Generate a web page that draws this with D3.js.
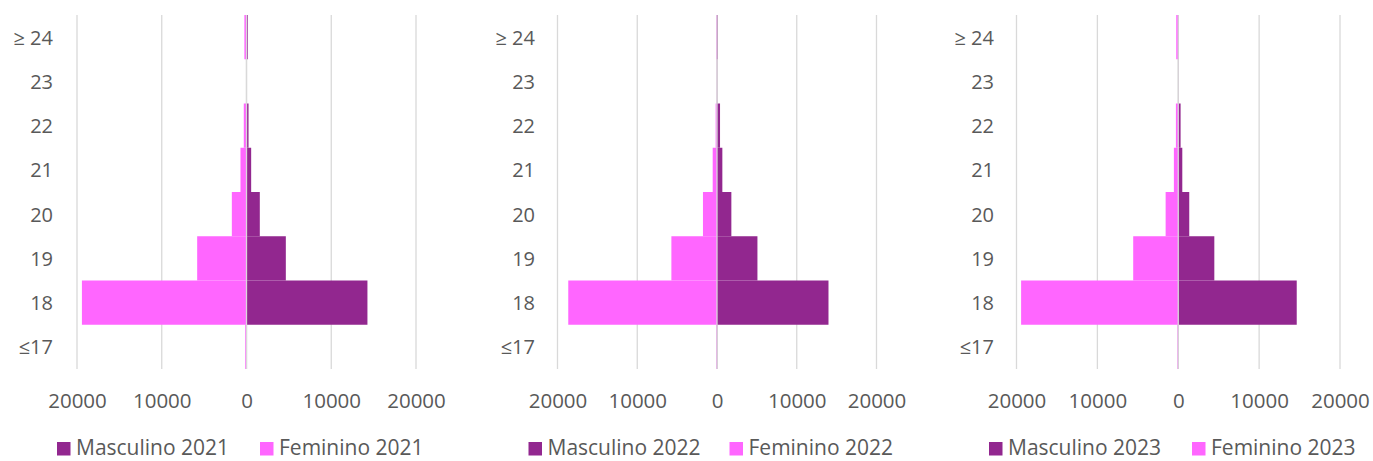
<!DOCTYPE html>
<html>
<head>
<meta charset="utf-8">
<script src="https://cdn.jsdelivr.net/npm/d3@7"></script>
<style>
  html, body { margin: 0; padding: 0; background: #fff; }
  svg { display: block; }
  text { font-family: "Open Sans", "Liberation Sans", sans-serif; fill: #595959; }
</style>
</head>
<body>
<svg id="chart" width="1373" height="461"></svg>
<script>
// ---- data ----
const categories = ["≤17", "18", "19", "20", "21", "22", "23", "≥ 24"];
const years = ["2021", "2022", "2023"];
const male2021   = [30, 14270, 4640, 1570, 550, 240, 30, 150];
const female2021 = [150, 19420, 5820, 1730, 710, 320, 50, 250];
const male2022   = [30, 13980, 5070, 1800, 670, 380, 30, 100];
const female2022 = [100, 18650, 5720, 1760, 540, 170, 30, 100];
const male2023   = [50, 14650, 4460, 1360, 500, 290, 30, 60];
const female2023 = [100, 19430, 5570, 1560, 540, 290, 30, 250];
const xTicks = [-20000, -10000, 0, 10000, 20000];
const seriesNames = ["Masculino", "Feminino"];

const maleByYear = [male2021, male2022, male2023];
const femaleByYear = [female2021, female2022, female2023];

// ---- layout ----
const colors = { male: "#92278F", female: "#FF66FF" };
const panels = [
  { left: 77,   right: 416,  labelX: 53,  legend: [57, 260] },
  { left: 557.5, right: 876.5, labelX: 535, legend: [528.5, 729.5] },
  { left: 1016.5, right: 1340, labelX: 994, legend: [989, 1192] }
];
const plotTop = 15, plotBottom = 369;

const svg = d3.select("#chart");

panels.forEach((p, i) => {
  const g = svg.append("g");
  const x = d3.scaleLinear().domain([-20000, 20000]).range([p.left, p.right]);
  const y = d3.scaleBand().domain(categories.slice().reverse()).range([plotTop, plotBottom]).padding(0);

  // gridlines
  g.append("g").selectAll("line").data(xTicks).join("line")
    .attr("x1", d => x(d)).attr("x2", d => x(d))
    .attr("y1", plotTop).attr("y2", plotBottom)
    .attr("stroke", "#d9d9d9").attr("stroke-width", 1.3);

  const male = maleByYear[i], female = femaleByYear[i];
  const rows = categories.map((c, k) => ({ c, m: male[k], f: female[k] }));

  // female bars (left)
  g.append("g").selectAll("rect").data(rows).join("rect")
    .attr("x", d => x(-d.f)).attr("width", d => x(0) - x(-d.f))
    .attr("y", d => y(d.c)).attr("height", y.bandwidth())
    .attr("fill", colors.female);
  // male bars (right)
  g.append("g").selectAll("rect").data(rows).join("rect")
    .attr("x", x(0)).attr("width", d => x(d.m) - x(0))
    .attr("y", d => y(d.c)).attr("height", y.bandwidth())
    .attr("fill", colors.male);

  // zero axis line
  g.append("line")
    .attr("x1", x(0)).attr("x2", x(0)).attr("y1", plotTop).attr("y2", plotBottom)
    .attr("stroke", "#d9d9d9").attr("stroke-width", 1.3);

  // x axis labels
  const xAxis = d3.axisBottom(x).tickValues(xTicks).tickSize(0).tickFormat(d => d3.format("d")(Math.abs(d)));
  const ax = g.append("g").attr("transform", `translate(0, ${plotBottom})`).call(xAxis);
  ax.select(".domain").remove();
  ax.selectAll("text").attr("dy", null).attr("y", 31).attr("dominant-baseline", "central")
    .style("font-size", "20.5px").style("font-family", null).attr("fill", "#595959");

  // y axis labels
  const yAxis = d3.axisLeft(y).tickSize(0);
  const ay = g.append("g").attr("transform", `translate(${p.labelX}, 0)`).call(yAxis);
  ay.select(".domain").remove();
  ay.selectAll("text").attr("x", 0).attr("dy", null).attr("dominant-baseline", "central")
    .style("font-size", "20px").style("font-family", null).attr("fill", "#595959");

  // legend
  const lg = g.append("g");
  [colors.male, colors.female].forEach((col, k) => {
    lg.append("rect").attr("x", p.legend[k]).attr("y", 442).attr("width", 13.5).attr("height", 13.5).attr("fill", col);
    lg.append("text").attr("x", p.legend[k] + 19).attr("y", 454.5)
      .style("font-size", "21px").text(seriesNames[k] + " " + years[i]);
  });
});
</script>
</body>
</html>
